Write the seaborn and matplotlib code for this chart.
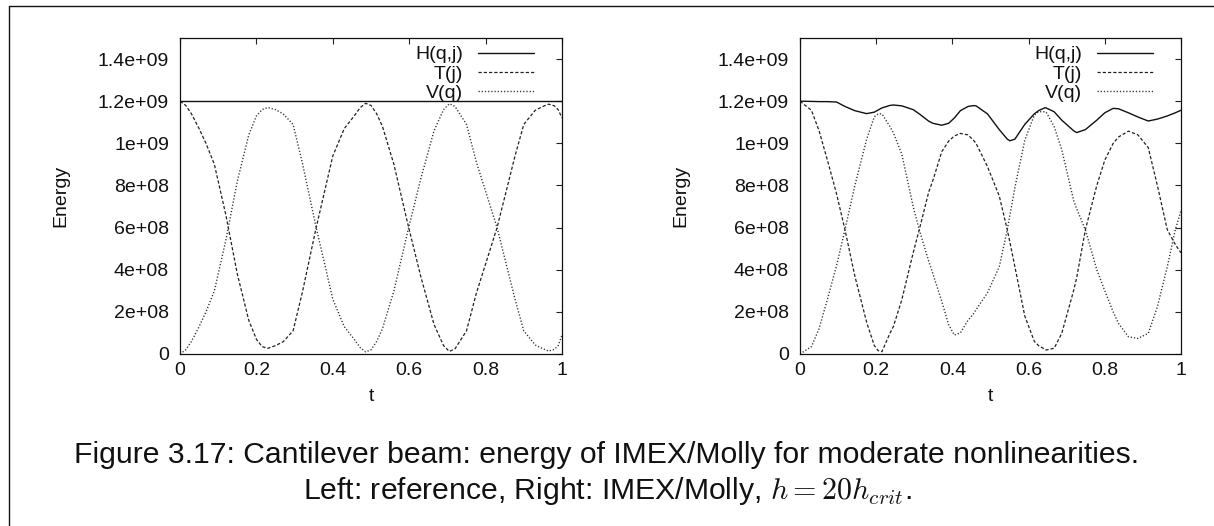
import numpy as np
import pandas as pd
import matplotlib
matplotlib.use("Agg")
import matplotlib.pyplot as plt
from matplotlib.lines import Line2D
import seaborn as sns

# ---------------- data ----------------
# Left panel: reference solution
t_left = [0.0, 0.015, 0.03, 0.05, 0.068, 0.09, 0.12, 0.15, 0.18, 0.20, 0.215, 0.23, 0.25,
          0.27, 0.296, 0.32, 0.356, 0.40, 0.43, 0.456, 0.472, 0.486, 0.50, 0.515, 0.53,
          0.56, 0.596, 0.63, 0.665, 0.69, 0.705, 0.72, 0.75, 0.776, 0.83, 0.877, 0.90,
          0.93, 0.95, 0.965, 0.98, 0.99, 1.0]
H_left = [1.2e9] * len(t_left)
T_left = [1.20, 1.18, 1.14, 1.07, 1.00, 0.90, 0.66, 0.38, 0.16, 0.07, 0.035, 0.027, 0.04,
          0.058, 0.11, 0.29, 0.596, 0.94, 1.07, 1.13, 1.17, 1.19, 1.18, 1.14, 1.08,
          0.90, 0.62, 0.37, 0.14, 0.04, 0.012, 0.025, 0.11, 0.29, 0.60, 0.94, 1.09,
          1.157, 1.175, 1.186, 1.178, 1.16, 1.12]
V_left = [0.00, 0.02, 0.06, 0.13, 0.20, 0.30, 0.54, 0.82, 1.04, 1.13, 1.16, 1.17, 1.16,
          1.14, 1.09, 0.91, 0.604, 0.26, 0.13, 0.07, 0.03, 0.01, 0.02, 0.06, 0.12,
          0.30, 0.58, 0.83, 1.06, 1.16, 1.188, 1.175, 1.09, 0.91, 0.60, 0.26, 0.11,
          0.043, 0.025, 0.014, 0.022, 0.04, 0.09]

# Right panel: IMEX/Molly, h = 20 h_crit
t_right = [0.0, 0.03, 0.05, 0.072, 0.096, 0.118, 0.144, 0.175, 0.195, 0.205, 0.215,
           0.236, 0.245, 0.267, 0.297, 0.313, 0.338, 0.349, 0.372, 0.39, 0.405,
           0.421, 0.441, 0.455, 0.462, 0.492, 0.523, 0.544, 0.551, 0.564, 0.59,
           0.615, 0.626, 0.643, 0.646, 0.667, 0.687, 0.718, 0.726, 0.749, 0.779,
           0.80, 0.822, 0.836, 0.862, 0.887, 0.914, 0.938, 0.964, 0.985, 1.0]
H_right = [1.20, 1.199, 1.198, 1.198, 1.196, 1.175, 1.155, 1.141, 1.148, 1.158, 1.168,
           1.180, 1.182, 1.178, 1.16, 1.14, 1.105, 1.095, 1.086, 1.095, 1.12,
           1.155, 1.175, 1.179, 1.178, 1.14, 1.065, 1.02, 1.012, 1.02, 1.09,
           1.14, 1.155, 1.169, 1.168, 1.15, 1.11, 1.06, 1.051, 1.065, 1.11,
           1.145, 1.166, 1.164, 1.145, 1.125, 1.106, 1.115, 1.13, 1.145, 1.157]
T_right = [1.20, 1.157, 1.06, 0.92, 0.76, 0.59, 0.37, 0.15, 0.04, 0.016, 0.011,
           0.098, 0.13, 0.256, 0.48, 0.59, 0.77, 0.825, 0.96, 1.01, 1.035,
           1.047, 1.04, 1.015, 1.0, 0.89, 0.75, 0.59, 0.53, 0.414, 0.18,
           0.06, 0.04, 0.022, 0.019, 0.027, 0.098, 0.30, 0.36, 0.59, 0.80,
           0.92, 1.0, 1.03, 1.058, 1.04, 0.98, 0.80, 0.59, 0.52, 0.48]
V_right = [0.00, 0.035, 0.12, 0.26, 0.42, 0.59, 0.80, 1.02, 1.126, 1.14, 1.14,
           1.08, 1.05, 0.95, 0.70, 0.59, 0.44, 0.38, 0.25, 0.14, 0.09,
           0.10, 0.16, 0.19, 0.21, 0.29, 0.414, 0.59, 0.66, 0.79, 1.015,
           1.134, 1.15, 1.15, 1.148, 1.08, 0.97, 0.73, 0.69, 0.59, 0.40,
           0.30, 0.20, 0.145, 0.082, 0.074, 0.098, 0.224, 0.414, 0.59, 0.68]

labels = ["H(q,j)", "T(j)", "V(q)"]
caption1 = "Figure 3.17: Cantilever beam: energy of IMEX/Molly for moderate nonlinearities."
caption2 = r"Left: reference, Right: IMEX/Molly, $h = 20h_{crit}$."

# ---------------- style ----------------
sns.set_theme(style="white")
plt.rcParams["font.family"] = ["Liberation Sans", "DejaVu Sans"]
plt.rcParams["mathtext.fontset"] = "cm"

fig = plt.figure(figsize=(12.14, 5.26), dpi=100)
fig.patch.set_facecolor("white")

W, Hh = 1214.0, 526.0
ax_l = fig.add_axes([180 / W, (Hh - 354) / Hh, 382 / W, 316 / Hh])
ax_r = fig.add_axes([800 / W, (Hh - 354) / Hh, 381 / W, 316 / Hh])

styles = [dict(color="#111111", linestyle="-", linewidth=1.0),
          dict(color="#222222", linestyle=(0, (2.6, 1.6)), linewidth=0.9),
          dict(color="#333333", linestyle=(0, (0.9, 1.4)), linewidth=1.0)]

fs = 14

def panel(ax, t, H, T, V, scale_H):
    Hs = np.array(H) * (1.0 if scale_H else 1e9)
    series = [Hs, np.array(T) * 1e9, np.array(V) * 1e9]
    for lab, y, st in zip(labels, series, styles):
        sns.lineplot(x=t, y=y, ax=ax, label=lab, **st)
    ax.set_xlim(0, 1)
    ax.set_ylim(0, 1.5e9)
    ax.set_xticks([0, 0.2, 0.4, 0.6, 0.8, 1.0])
    ax.set_xticklabels(["0", "0.2", "0.4", "0.6", "0.8", "1"])
    ax.set_yticks([0, 2e8, 4e8, 6e8, 8e8, 1e9, 1.2e9, 1.4e9])
    ax.set_yticklabels(["0", "2e+08", "4e+08", "6e+08", "8e+08", "1e+09", "1.2e+09", "1.4e+09"])
    ax.tick_params(axis="both", direction="in", length=4, width=0.8, color="#222222",
                   top=True, right=True, labelsize=fs, colors="#111111")
    ax.tick_params(axis="y", pad=8.0)
    ax.tick_params(axis="x", pad=6)
    for s in ax.spines.values():
        s.set_color("#111111")
        s.set_linewidth(0.9)
    ax.set_xlabel("t", fontsize=fs, labelpad=6, color="#111111")
    ax.set_ylabel("Energy", fontsize=fs, labelpad=20, color="#111111")
    ax.grid(False)
    leg = ax.legend(loc="upper right", frameon=False, fontsize=fs, markerfirst=False,
                    alignment="right", handlelength=2.9, handletextpad=0.75,
                    labelspacing=0.08, borderaxespad=0.2, borderpad=0.2,
                    bbox_to_anchor=(1 - 20 / 382, 1.0))
    for txt in leg.get_texts():
        txt.set_color("#111111")

panel(ax_l, t_left, H_left, T_left, V_left, True)
panel(ax_r, t_right, H_right, T_right, V_right, False)

# caption
fig.text(0.5, 1 - 455 / Hh, caption1, ha="center", va="center", fontsize=21.7, color="#111111")
fig.text(0.5, 1 - 491 / Hh, caption2, ha="center", va="center", fontsize=21.7, color="#111111")

# surrounding frame (left and top edges)
fig.add_artist(Line2D([9 / W, 9 / W], [0, 1 - 6 / Hh], transform=fig.transFigure,
                      color="#111111", linewidth=1.0))
fig.add_artist(Line2D([9 / W, 1.0], [1 - 6 / Hh, 1 - 6 / Hh], transform=fig.transFigure,
                      color="#111111", linewidth=1.0))

fig.savefig("out.png", dpi=100, facecolor="white")
